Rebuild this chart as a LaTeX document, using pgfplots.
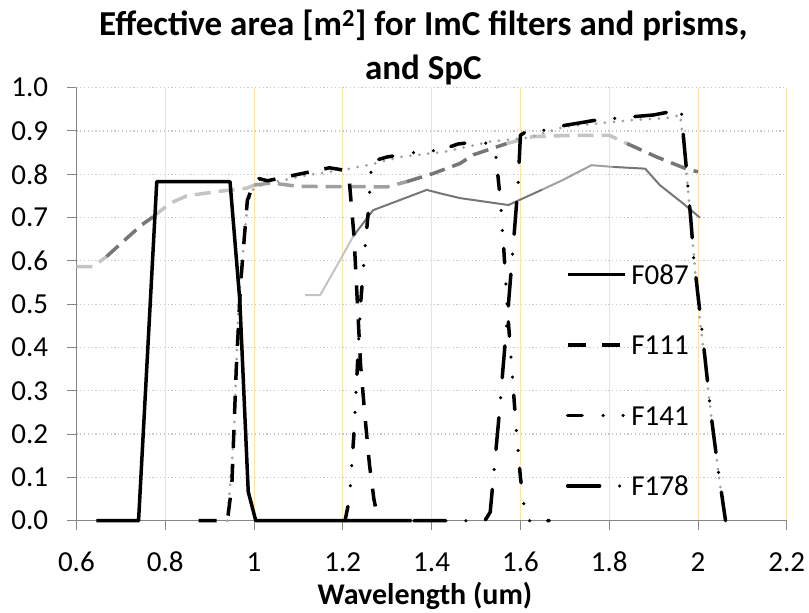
\documentclass[border=0pt]{standalone}
\usepackage{fontspec}
\setmainfont{Carlito}
\usepackage{pgfplots}
\pgfplotsset{compat=1.18}
\definecolor{gridyellow}{RGB}{253,229,170}
\definecolor{gridgray}{RGB}{200,200,200}
\definecolor{axisgray}{RGB}{134,134,134}
\definecolor{lightg}{RGB}{196,196,196}
\definecolor{midg}{RGB}{160,160,160}
\definecolor{darkg}{RGB}{118,118,118}
\begin{document}
\begin{tikzpicture}[x=1bp,y=1bp]
\useasboundingbox (-76.4,-92.3) rectangle (732.6,520.7);
\begin{axis}[
    at={(0,0)}, anchor=south west,
    scale only axis, width=710.4bp, height=433bp,
    xmin=0.6, xmax=2.2, ymin=0, ymax=1,
    clip=false,
    axis x line=bottom, axis y line=left,
    axis line style={-, color=axisgray, line width=1bp},
    xtick={0.6,0.8,1,1.2,1.4,1.6,1.8,2,2.2},
    xticklabels={0.6,0.8,1,1.2,1.4,1.6,1.8,2,2.2},
    ytick={0,0.1,0.2,0.3,0.4,0.5,0.6,0.7,0.8,0.9,1},
    yticklabels={0.0,0.1,0.2,0.3,0.4,0.5,0.6,0.7,0.8,0.9,1.0},
    tick align=outside, major tick length=9bp,
    tick style={color=axisgray, line width=1bp},
    ticklabel style={font=\fontsize{29bp}{34bp}\selectfont, inner sep=0pt},
    xticklabel style={anchor=base, yshift=-42bp},
    yticklabel style={anchor=east, xshift=-19bp},
    grid=major,
    major x grid style={color=gridyellow, line width=0.9bp},
    major y grid style={color=gridgray, line width=1.2bp, dash pattern=on 1.2bp off 2.6bp},
    legend style={at={(0.689,0.5905)}, anchor=north west, draw=none, fill=none,
        inner sep=0pt, outer sep=0pt, row sep=51.5bp, column sep=5bp,
        font=\fontsize{29bp}{34bp}\selectfont,
        nodes={inner sep=0pt, text height=19bp, text depth=0bp}, cells={anchor=west}},
    legend image code/.code={\draw[#1] (0bp,0bp) -- (57bp,0bp);},
]
% prism (gray dashed), shaded in pieces
\addplot[forget plot, lightg, line width=3.5bp, dash pattern=on 16bp off 8bp] coordinates {
(0.6,0.587) (0.638,0.587) (0.668,0.61)};
\addplot[forget plot, darkg, line width=3.5bp, dash pattern=on 16bp off 8bp] coordinates {
(0.668,0.61) (0.713,0.652) (0.747,0.683) (0.773,0.702)};
\addplot[forget plot, lightg, line width=3.5bp, dash pattern=on 16bp off 8bp] coordinates {
(0.773,0.702) (0.811,0.733) (0.848,0.75) (0.916,0.76) (0.984,0.768) (1.0,0.775)};
\addplot[forget plot, midg, line width=3.5bp, dash pattern=on 16bp off 8bp] coordinates {
(1.0,0.775) (1.04,0.78) (1.1,0.772) (1.3,0.771) (1.344,0.783)};
\addplot[forget plot, darkg, line width=3.5bp, dash pattern=on 16bp off 8bp] coordinates {
(1.344,0.783) (1.404,0.802) (1.464,0.825) (1.494,0.845) (1.569,0.871)};
\addplot[forget plot, lightg, line width=3.5bp, dash pattern=on 16bp off 8bp] coordinates {
(1.569,0.871) (1.628,0.887) (1.72,0.89) (1.80,0.89) (1.84,0.871)};
\addplot[forget plot, darkg, line width=3.5bp, dash pattern=on 16bp off 8bp] coordinates {
(1.84,0.871) (1.907,0.84) (1.98,0.81) (2.0,0.806)};
% SpC (gray solid)
\addplot[forget plot, lightg, line width=2bp] coordinates {
(1.115,0.521) (1.149,0.521) (1.194,0.602) (1.223,0.656)};
\addplot[forget plot, darkg, line width=2bp] coordinates {
(1.223,0.656) (1.268,0.717) (1.389,0.764) (1.419,0.756) (1.464,0.745) (1.573,0.729) (1.65,0.765)};
\addplot[forget plot, midg, line width=2bp] coordinates {
(1.65,0.765) (1.696,0.787) (1.76,0.821) (1.809,0.817)};
\addplot[forget plot, darkg, line width=2bp] coordinates {
(1.809,0.817) (1.881,0.813) (1.914,0.775) (1.966,0.733) (2.004,0.70)};
% grism (gray dotted)
\addplot[forget plot, midg, line width=3bp, line cap=round, dash pattern=on 0bp off 9bp] coordinates {
(0.94,0) (0.955,0.2) (0.965,0.5) (0.985,0.73) (1.0,0.77) (1.05,0.783) (1.12,0.798)
(1.2,0.81) (1.26,0.822) (1.33,0.84) (1.43,0.852) (1.53,0.875) (1.62,0.885) (1.70,0.91)
(1.77,0.917) (1.85,0.925) (1.93,0.93) (1.96,0.937) (1.97,0.85) (1.985,0.68) (2.0,0.5)
(2.03,0.24) (2.06,0)};
% filters
\addplot[black, line width=3.5bp, line join=round] coordinates {
(0.645,0) (0.74,0) (0.781,0.783) (0.946,0.783) (0.968,0.509) (0.987,0.067) (1.004,0) (1.355,0)};
\addlegendentry{F087}
\addplot[black, line width=3.5bp, line join=round, dash pattern=on 18bp off 16bp] coordinates {
(0.875,0) (0.94,0) (0.95,0.08) (0.96,0.35) (0.97,0.55) (0.985,0.74) (1.0,0.78) (1.012,0.79)
(1.03,0.785) (1.1,0.80) (1.17,0.815) (1.2,0.81) (1.215,0.78) (1.225,0.66) (1.233,0.5)
(1.24,0.36) (1.25,0.24) (1.26,0.13) (1.27,0.05) (1.28,0)};
\addlegendentry{F111}
\addplot[black, line width=3.5bp, line cap=round, line join=round,
    dash pattern=on 14.5bp off 21bp on 0bp off 20bp on 0bp off 18bp] coordinates {
(1.205,0) (1.215,0.05) (1.225,0.2) (1.235,0.4) (1.24,0.5) (1.25,0.63) (1.258,0.72)
(1.263,0.8) (1.266,0.83) (1.3,0.84) (1.36,0.85) (1.42,0.856) (1.46,0.87) (1.5,0.875)
(1.535,0.87) (1.545,0.84) (1.555,0.74) (1.563,0.62) (1.57,0.5) (1.58,0.36) (1.59,0.22)
(1.6,0.1) (1.61,0.02) (1.615,0) (1.665,0)};
\addlegendentry{F141}
\addplot[black, line width=3.5bp, line cap=round, line join=round,
    dash pattern=on 32bp off 20bp on 0bp off 20bp] coordinates {
(1.36,0) (1.52,0) (1.532,0.02) (1.55,0.22) (1.573,0.5) (1.585,0.65) (1.595,0.78) (1.6,0.89)
(1.615,0.9) (1.66,0.902) (1.70,0.913) (1.77,0.925) (1.82,0.93) (1.90,0.937) (1.94,0.945)
(1.962,0.95) (1.966,0.9) (1.975,0.8) (1.985,0.68) (1.99,0.61) (2.01,0.43) (2.03,0.24)
(2.045,0.12) (2.062,0)};
\addlegendentry{F178}
\end{axis}
\node[anchor=base, font=\bfseries\fontsize{35bp}{40bp}\selectfont] at (347,484.7)
    {Effective area [m\textsuperscript{2}] for ImC filters and prisms,};
\node[anchor=base, font=\bfseries\fontsize{35bp}{40bp}\selectfont] at (347,441.4) {and SpC};
\node[anchor=base, font=\bfseries\fontsize{30bp}{36bp}\selectfont] at (348.6,-84.3) {Wavelength (um)};
\end{tikzpicture}
\end{document}
